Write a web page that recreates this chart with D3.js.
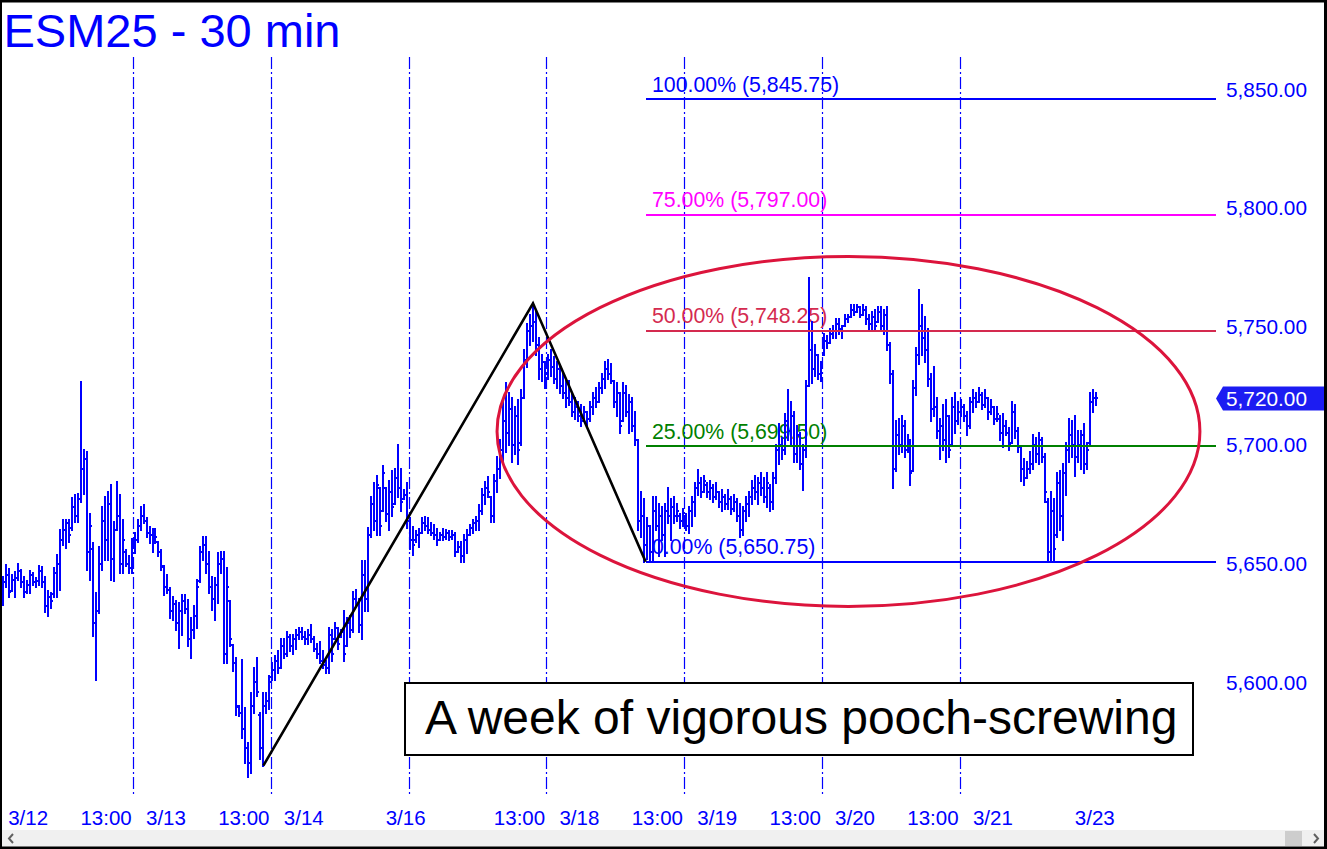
<!DOCTYPE html>
<html><head><meta charset="utf-8">
<script src="https://cdn.jsdelivr.net/npm/d3@7"></script>
<style>html,body{margin:0;padding:0;background:#fff;overflow:hidden}svg{display:block}</style>
</head><body><svg id="c" width="1327" height="849"></svg>
<script>
// ---- DATA: 30-min OHLC bars per session [open, high, low, close] ----
const d0312 = [
[5634,5644.5,5632.5,5642],[5642,5649.5,5640.25,5645],[5645,5647.5,5635.75,5638],[5638.25,5645.25,5638.25,5643],
[5643,5646.5,5635.75,5644],[5644,5649.75,5643,5647],[5647,5647.25,5640.25,5642],[5642,5644.5,5635.75,5638],
[5638,5642.5,5637.5,5641],[5641,5647,5637.5,5645],[5645,5646,5641,5642],[5642,5643.75,5640.25,5642.5],
[5642.5,5648.75,5641,5647],[5647,5648.5,5640.25,5642],[5642,5644.5,5629.75,5632],[5632,5638.25,5627.75,5636],
[5636,5637.5,5631.25,5634],[5637,5648,5636,5646],[5646,5653.5,5636,5650],[5650,5664,5639,5660],
[5660,5668.25,5657.75,5664],[5664,5668.5,5656.5,5667],[5667,5668.5,5659.25,5662],[5665,5677.5,5664,5674],
[5674,5678.75,5667.5,5670],[5670,5679.5,5667.5,5677],[5677,5726.5,5676,5690],[5690,5697.75,5679.5,5694],
[5694,5697,5647.25,5655],[5655,5671,5643,5666],[5656,5658.5,5619.25,5625],[5625,5637.5,5601,5630],
[5630,5657,5629,5650],[5650,5674,5647.25,5668],[5668,5678,5651.5,5660],[5660,5680.25,5651.5,5675],
[5675,5683,5643,5652],[5652,5667.5,5642.5,5664],[5664,5684.5,5664,5670],[5670,5678.75,5646,5650],
[5650,5668.25,5646,5660],[5655,5655.75,5648.75,5650],[5650,5653,5646,5648],[5648,5660.5,5646,5658]
];
const d0313 = [
[5658,5662.75,5654.25,5660],[5660,5668.25,5659.25,5666],[5666,5674,5664,5670],[5670,5674.5,5667,5668],
[5668,5669,5661.25,5663],[5663,5665.5,5658.5,5662],[5662,5664.75,5655,5660],[5660,5664.75,5658.5,5661],
[5659,5659.25,5653,5655],[5655,5655.75,5647.25,5649],[5648.5,5648.75,5636.75,5640],[5640,5645.25,5637.5,5639],
[5639,5639.5,5627,5630],[5630,5636,5626.25,5633],[5633,5634,5622,5625],[5625,5633.25,5614.25,5630],
[5630,5636.75,5620,5634],[5634,5636.75,5629,5631],[5631,5634.75,5615,5618],[5618,5627,5610,5622],
[5622,5632,5618.5,5628],[5628,5643,5622.75,5640],[5642.5,5657,5642.25,5655],[5655,5661.25,5651.5,5658],
[5658,5661.25,5646,5650],[5650,5655,5637.5,5640],[5640,5644.5,5630.5,5635],[5635,5643.75,5626.25,5641],
[5641,5654.25,5633.25,5650],[5650,5655,5646,5652],[5652,5655,5608,5612],[5612,5648,5608,5640],
[5634,5634,5615,5618],[5615.5,5615.75,5604.5,5608],[5608,5610,5586.25,5590],[5589.5,5589.75,5585.5,5587],
[5587,5609.5,5576.5,5580],[5580,5589,5566,5572],[5572,5574.5,5559.75,5566],[5566,5595.5,5561.75,5590],
[5590,5606,5587,5600],[5600,5610,5594,5596],[5586,5587,5567.5,5572],[5572,5595.5,5564.75,5590],
[5590,5595.5,5587,5592],[5592,5602.5,5588.5,5600]
];
const d0314 = [
[5602,5608,5601,5605],[5605,5611,5601,5609],[5609,5613,5604,5606],[5606,5618,5606,5615],
[5615,5618,5610,5612],[5612,5621,5611,5619],[5619,5620,5613,5615],[5615,5620,5612,5618],
[5618,5622,5614,5620],[5620,5623,5618,5621],[5621,5623,5618,5619],[5619,5621,5616,5618],
[5618,5622,5616,5620],[5620,5624,5617,5618],[5618,5619,5613,5614],[5614,5616,5610,5612],
[5612,5617,5608,5609],[5609,5613,5606,5607],[5607,5609,5604,5606],[5606,5623,5604,5620],
[5620,5622,5609,5612],[5618,5625,5618,5623],[5623,5623,5614,5616],[5619,5622,5619,5621],
[5621,5630,5609,5612],[5615,5627,5615,5625],[5625,5628,5619,5622],[5622,5638,5621,5635],
[5635,5639,5632,5633],[5633,5635,5621,5624],[5624,5651,5618,5645],[5645,5651,5630,5635],
[5635,5665,5630,5662],[5662,5678,5661,5675],[5675,5684,5664,5668],[5668,5687,5662,5683],
[5682,5682,5662,5666],[5672,5691,5672,5688],[5682,5682,5668,5671],[5671,5685,5664,5680],
[5680,5689,5670,5674],[5675,5690,5675,5686],[5686,5700,5678,5682],[5682,5690,5672,5676],
[5677,5681,5677,5679],[5679,5684,5665,5668]
];
const d0317 = [
[5668,5669,5656,5660],[5660,5665.5,5653.5,5658],[5660,5663.5,5659.25,5662],[5662,5664.75,5657,5663],
[5663,5669,5662.75,5667],[5667,5669.75,5664,5666],[5666,5669,5662.75,5664],[5664,5667,5662,5663],
[5663,5666.25,5660.5,5662],[5662,5664.75,5657.75,5660],[5660,5662.75,5660,5662],[5662,5664.75,5660,5661],
[5661,5664,5660.5,5663],[5663,5663.5,5660,5661],[5661,5663.5,5660.5,5662],[5662,5662.75,5653,5655],
[5655,5659.25,5655,5657],[5657,5659.25,5650.75,5653],[5653,5662,5650.75,5660],[5660,5664,5654.25,5662],
[5662,5666.25,5662,5665],[5665,5668.25,5662.75,5667],[5667,5669.75,5664,5668],[5668,5674.5,5664,5672],
[5672,5681.5,5671,5679],[5679,5684.5,5675.25,5682],[5682,5686.5,5678,5680],[5678,5678,5667.5,5670],
[5670,5687.25,5667.5,5685],[5685,5695,5680,5690],[5690,5702,5686,5698],[5698,5718,5692,5710],
[5710,5726,5697,5705],[5705,5722,5700,5715],[5715,5720,5693,5700],[5700,5716,5696,5712],
[5712,5719,5692,5698],[5701,5723,5700,5720],[5720,5740,5720,5736],[5736,5751,5733,5748],
[5748,5755,5742,5750],[5750,5759.75,5744,5752],[5752,5756,5738,5742],[5742,5745,5728,5732],
[5732,5738,5727,5735],[5735,5735,5724,5730]
];
const d0318 = [
[5730,5738,5728,5736],[5736,5740,5729,5733],[5733,5737,5726,5728],[5728,5735,5724,5732],
[5732,5733,5722,5725],[5725,5730,5720,5722],[5722,5728,5716,5720],[5720,5727,5717,5718],
[5718,5722,5712,5714],[5714,5720,5711,5716],[5716,5718,5710,5712],[5712,5717,5708,5710],
[5710,5716,5710,5714],[5714,5714,5708,5711],[5711,5718,5710,5716],[5716,5722,5713,5720],
[5720,5724,5716,5718],[5718,5726,5718,5724],[5724,5730,5722,5728],[5728,5735,5724,5732],
[5732,5736,5728,5730],[5730,5734,5726,5727],[5727,5727,5716,5718],[5718,5726,5712,5722],
[5722,5722,5705,5708],[5710,5726,5710,5722],[5722,5725,5712,5714],[5714,5721,5705,5718],
[5718,5720,5706,5708],[5708,5714,5700,5702],[5702,5702,5664,5668],[5668,5680,5661,5670],
[5670,5677,5650.75,5658],[5658,5669,5652,5666],[5666,5666,5651,5655],[5655,5678,5651,5672],
[5672,5678,5664,5666],[5666,5675,5653,5670],[5670,5674,5660,5662],[5662,5675,5653,5672],
[5672,5682,5667,5670],[5670,5677,5660,5674],[5674,5678,5667,5670],[5670,5675,5668,5672],
[5670,5671,5665,5668],[5668,5673,5666,5670]
];
const d0319 = [
[5670,5671,5664,5666],[5666,5674,5663,5672],[5672,5678,5666,5676],[5676,5684,5670,5682],
[5682,5689.5,5679,5684],[5684,5686,5678,5680],[5680,5687,5680,5685],[5683,5684,5678,5680],
[5680,5685,5677,5682],[5682,5683,5676,5678],[5678,5684,5677,5680],[5680,5680,5674,5676],
[5676,5681,5672,5678],[5678,5679,5673,5675],[5675,5681,5673,5677],[5677,5678,5671,5673],
[5673,5679,5672,5676],[5676,5677,5668,5670],[5670,5675,5661,5664],[5664,5674,5662,5672],
[5672,5678,5668,5675],[5675,5680,5670,5678],[5678,5685,5675,5682],[5682,5687,5677,5680],
[5680,5686,5675,5684],[5684,5688,5679,5682],[5682,5686,5676,5678],[5678,5688,5674,5684],
[5682,5683,5672,5676],[5676,5688,5673,5686],[5686,5700,5684,5698],[5698,5709,5692,5700],
[5700,5703,5694,5698],[5698,5713,5696,5710],[5710,5723,5702,5706],[5706,5718,5700,5712],
[5712,5714,5693,5696],[5696,5708,5693,5704],[5704,5705,5690,5692],[5692,5700,5681,5698],
[5698,5727,5695,5725],[5725,5770.5,5725,5740],[5740,5752,5726,5732],[5732,5742,5729,5738],
[5738,5738,5728,5730],[5730,5735,5727,5733]
];
const d0320 = [
[5738,5747,5738,5744],[5744,5746,5741,5743],[5743,5749,5743,5747],[5747,5750,5745,5748],
[5748,5753,5745,5751],[5751,5753,5747,5749],[5749,5750,5745,5748],[5750,5755,5750,5753],
[5753,5755,5752,5754],[5754,5759,5754,5757],[5757,5759,5755,5756],[5756,5759,5756,5758],
[5758,5758,5754,5755],[5755,5759,5755,5757],[5757,5758,5751,5753],[5753,5755,5749,5751],
[5751,5756,5749,5754],[5754,5757,5749,5750],[5752,5758,5752,5756],[5756,5758,5748,5750],
[5750,5757,5747,5755],[5755,5758,5740,5742],[5742,5743,5726,5730],[5730,5731,5682,5690],
[5690,5710,5689,5704],[5704,5711,5696,5700],[5700,5712,5697,5708],[5708,5710,5695,5698],
[5698,5704,5697,5700],[5700,5702,5683,5688],[5689,5727,5689,5724],[5724,5741,5721,5738],
[5738,5765.5,5734,5750],[5750,5759,5738,5745],[5745,5754,5735,5740],[5740,5749,5725,5728],
[5728,5730,5710,5715],[5715,5733,5712,5716],[5716,5720,5703,5706],[5706,5711,5694,5708],
[5708,5717,5698,5702],[5702,5719,5693,5712],[5712,5712,5695,5698],[5700,5720,5700,5716],
[5716,5722,5705,5710],[5710,5718,5709,5714]
];
const d0321 = [
[5714,5719,5712,5716],[5716,5717,5710,5712],[5712,5714,5704,5708],[5708,5720,5707,5718],
[5718,5723,5714,5720],[5720,5722,5716,5718],[5718,5724,5718,5721],[5721,5722,5715,5717],
[5717,5723,5716,5720],[5720,5720,5711,5714],[5714,5719,5713,5716],[5716,5716,5709,5711],
[5711,5716,5710,5713],[5711,5712,5702,5705],[5705,5713,5699,5708],[5708,5710,5704,5705],
[5705,5707,5698,5700],[5701,5718,5701,5714],[5714,5717,5703,5706],[5706,5707,5697,5699],
[5699,5699,5685,5690],[5690,5694,5683,5686],[5686,5693,5686,5690],[5690,5697,5688,5692],
[5692,5704,5690,5700],[5700,5703,5693,5696],[5696,5705,5692,5702],[5702,5703,5693,5695],
[5695,5696,5676,5680],[5676,5677,5651,5655],[5655,5680,5650.75,5672],[5672,5677,5650.75,5656],
[5662,5688,5661,5684],[5684,5689,5664,5670],[5670,5692,5660,5688],[5688,5701,5679,5698],
[5698,5711,5693,5704],[5704,5710,5695,5700],[5700,5712,5687,5695],[5695,5706,5693,5700],
[5700,5706,5690,5704],[5704,5709,5688,5692],[5692,5701,5690,5698],[5701,5722,5700,5718],
[5718,5723,5714,5720],[5720,5722,5717,5720]
];
const sessions = [d0312, d0313, d0314, d0317, d0318, d0319, d0320, d0321];

const xLabelText = ["3/12","13:00","3/13","13:00","3/14","3/16","13:00","3/18","13:00","3/19","13:00","3/20","13:00","3/21","3/23"];
const xLabelBar  = [10, 36, 56, 82, 102, 136, 174, 194, 220, 240, 266, 286, 312, 332, 366];
const yTicks = [5600, 5650, 5700, 5750, 5800, 5850];

const fibPct    = ["0.00%", "25.00%", "50.00%", "75.00%", "100.00%"];
const fibLevels = [5650.75, 5699.50, 5748.25, 5797.00, 5845.75];
const fibColors = ["#0000ff", "#008000", "#d42a4f", "#ff00ff", "#0000ff"];

const zigzagBar   = [87, 177, 214.6];
const zigzagPrice = [5564.75, 5759.75, 5650.75];

const ellipseBar = [282.3, 117.3];     // centre bar, half-width in bars
const ellipsePrice = [5705.7, 73.8];   // centre price, half-height in points

const lastPrice = 5720;
const titleText = "ESM25 - 30 min";
const noteText = "A week of vigorous pooch-screwing";

// ---- DRAW ----
const bars = sessions.flat();
const W = 1327, H = 849;
const FONT = "'Liberation Sans', Arial, Helvetica, sans-serif";
const svg = d3.select("#c");
const x = d3.scaleLinear().domain([0, 365]).range([2.7, 1096.25]);
const y = d3.scaleLinear().domain([5650, 5850]).range([563.5, 89.3]);
const fmt = d3.format(",.2f");

svg.append("rect").attr("width", W).attr("height", H).attr("fill", "#fff");

// session separators
let cum = 0;
const seps = [];
sessions.forEach((s, k) => { cum += s.length; if (k < sessions.length - 1) seps.push(cum - 0.5); });
svg.append("g").selectAll("line").data(seps).join("line")
  .attr("x1", d => Math.round(x(d)) + 0.5).attr("x2", d => Math.round(x(d)) + 0.5)
  .attr("y1", 57).attr("y2", 797)
  .attr("stroke", "#0000ff").attr("stroke-width", 1.2)
  .attr("stroke-dasharray", "12,3,2,3");

// fib labels (under bars)
svg.append("g").selectAll("text").data(fibLevels).join("text")
  .attr("x", 652).attr("y", d => y(d) - 7.5)
  .attr("fill", (d, i) => fibColors[i])
  .attr("font-family", FONT).attr("font-size", 21.3)
  .text((d, i) => `${fibPct[i]} (${fmt(d)})`);

// OHLC bars
const bg = svg.append("g").attr("stroke", "#0000ff").attr("stroke-width", 2).attr("shape-rendering", "crispEdges");
bars.forEach((b, i) => {
  const cx = Math.round(x(i));
  const yh = Math.round(y(b[1])), yl = Math.round(y(b[2]));
  const yo = Math.round(y(b[0])), yc = Math.round(y(b[3]));
  bg.append("line").attr("x1", cx).attr("x2", cx).attr("y1", yh - 1).attr("y2", yl + 1);
  bg.append("line").attr("x1", cx - 2).attr("x2", cx).attr("y1", yo).attr("y2", yo);
  bg.append("line").attr("x1", cx).attr("x2", cx + 2).attr("y1", yc).attr("y2", yc);
});

// fib lines
svg.append("g").attr("shape-rendering", "crispEdges").selectAll("line").data(fibLevels).join("line")
  .attr("x1", x(zigzagBar[2])).attr("x2", 1216)
  .attr("y1", d => Math.round(y(d))).attr("y2", d => Math.round(y(d)))
  .attr("stroke", (d, i) => fibColors[i]).attr("stroke-width", 2);

// zigzag
svg.append("path")
  .attr("d", d3.line()(zigzagBar.map((b, i) => [x(b), y(zigzagPrice[i])])))
  .attr("fill", "none").attr("stroke", "#000").attr("stroke-width", 2.6);

// ellipse
svg.append("ellipse")
  .attr("cx", x(ellipseBar[0])).attr("cy", y(ellipsePrice[0]))
  .attr("rx", x(ellipseBar[0] + ellipseBar[1]) - x(ellipseBar[0]))
  .attr("ry", y(ellipsePrice[0] - ellipsePrice[1]) - y(ellipsePrice[0]))
  .attr("fill", "none").attr("stroke", "#dc143c").attr("stroke-width", 3);

// y-axis labels
svg.append("g").selectAll("text").data(yTicks).join("text")
  .attr("x", 1226).attr("y", d => y(d) + 7.5)
  .attr("fill", "#0000ff").attr("font-family", FONT).attr("font-size", 20.8)
  .text(d => fmt(d));

// last price tag
const ylp = y(lastPrice) + 1;
svg.append("path")
  .attr("d", `M1216,${ylp} L1223,${ylp - 12} L1325,${ylp - 12} L1325,${ylp + 12} L1223,${ylp + 12} Z`)
  .attr("fill", "#1c1cf2");
svg.append("text").attr("x", 1226).attr("y", ylp + 7.5)
  .attr("fill", "#fff").attr("font-family", FONT).attr("font-size", 20.8)
  .text(fmt(lastPrice));

// x-axis labels
svg.append("g").selectAll("text").data(xLabelText).join("text")
  .attr("x", (d, i) => x(xLabelBar[i]) - 4.5).attr("y", 825)
  .attr("text-anchor", "middle")
  .attr("fill", "#0000ff").attr("font-family", FONT).attr("font-size", 20.5)
  .text(d => d);

// title
svg.append("text").attr("x", 3.5).attr("y", 47)
  .attr("fill", "#0000ff").attr("font-family", FONT).attr("font-size", 47)
  .text(titleText);

// note box
svg.append("rect").attr("x", 405).attr("y", 683).attr("width", 788).attr("height", 72)
  .attr("fill", "#fff").attr("stroke", "#000").attr("stroke-width", 2);
svg.append("text").attr("x", 425).attr("y", 734)
  .attr("fill", "#000").attr("font-family", FONT).attr("font-size", 48)
  .text(noteText);

// scrollbar
svg.append("rect").attr("x", 2).attr("y", 830).attr("width", 1322).attr("height", 17).attr("fill", "#f0f0f0");
svg.append("rect").attr("x", 1285).attr("y", 831).attr("width", 17).attr("height", 15).attr("fill", "#cdcdcd");
svg.append("path").attr("d", "M13,834 L9,838.5 L13,843").attr("fill", "none").attr("stroke", "#606060").attr("stroke-width", 2);
svg.append("path").attr("d", "M1314,834 L1318,838.5 L1314,843").attr("fill", "none").attr("stroke", "#606060").attr("stroke-width", 2);

// window border
svg.append("rect").attr("x", 0).attr("y", 0).attr("width", W).attr("height", 2.5).attr("fill", "#000");
svg.append("rect").attr("x", 0).attr("y", 0).attr("width", 2).attr("height", H).attr("fill", "#000");
svg.append("rect").attr("x", 1324).attr("y", 0).attr("width", 3).attr("height", H).attr("fill", "#000");
svg.append("rect").attr("x", 0).attr("y", 846.5).attr("width", W).attr("height", 2.5).attr("fill", "#000");
</script>
</body></html>
